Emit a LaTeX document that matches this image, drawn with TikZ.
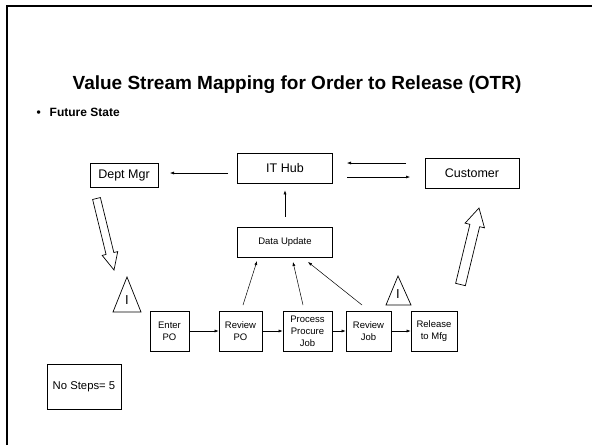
\documentclass[tikz,border=0pt]{standalone}
\usepackage{fontspec}
\setmainfont{Liberation Sans}
\usetikzlibrary{calc,arrows.meta}
\newcommand{\blkarrow}[5]{% tail, tip, shaft half, head half, head length
  \draw[line width=0.7pt,line join=miter]
    coordinate (nk) at ($(#2)!#5!(#1)$)
    ($(#1)!#3!90:(#2)$) -- ($(nk)!#3!90:(#2)$) -- ($(nk)!#4!90:(#2)$) -- (#2)
    -- ($(nk)!#4!-90:(#2)$) -- ($(nk)!#3!-90:(#2)$) -- ($(#1)!#3!-90:(#2)$) -- cycle;}
\tikzset{
  box/.style={draw,line width=0.7pt,inner sep=1pt,align=center},
  bigbox/.style={box,font=\fontsize{12.5}{14}\selectfont},
  smallbox/.style={box,font=\fontsize{9.5}{12}\selectfont},
  conn/.style={line width=0.5pt,-{Latex[length=4pt,width=3pt]}},
  tri/.style={line width=0.7pt,line join=miter},
}
\begin{document}
\begin{tikzpicture}[x=1pt,y=-1pt]
\useasboundingbox (0,0) rectangle (592,445);
\fill[white] (0,0) rectangle (592,445);
% frame
\draw[line width=2.5pt] (7,445) -- (7,6) -- (592,6);
% title
\node[font=\fontsize{19}{22}\bfseries\selectfont] (title) at (297,85) {Value Stream Mapping for Order to Release (OTR)};
\node[font=\fontsize{12}{14}\bfseries\selectfont,anchor=west] (fs) at (33,112) {\textbullet\hspace{9pt}Future State};
% top boxes
\node[bigbox,minimum width=68pt,minimum height=24pt] (dept) at (124,175.5) {Dept Mgr};
\node[bigbox,minimum width=95pt,minimum height=30pt] (ithub) at (285,168) {IT Hub};
\node[bigbox,minimum width=94pt,minimum height=30pt] (cust) at (472,173) {Customer};
\node[smallbox,minimum width=95pt,minimum height=30pt] (du) at (285,242) {Data Update};
% process boxes
\node[smallbox,minimum width=39pt,minimum height=40pt] (enter) at (169.5,331) {Enter\\PO};
\node[smallbox,minimum width=43pt,minimum height=40pt] (revpo) at (240.5,331) {Review\\PO};
\node[smallbox,minimum width=49pt,minimum height=40pt] (proc) at (307.5,331) {Process\\Procure\\Job};
\node[smallbox,minimum width=45pt,minimum height=40pt] (revjob) at (368.5,331) {Review\\Job};
\node[smallbox,minimum width=46pt,minimum height=40pt] (rel) at (434,331) {Release\\to Mfg};
\node[box,font=\fontsize{11.3}{13}\selectfont,minimum width=74pt,minimum height=45pt] (nosteps) at (84,386.5) {No Steps= 5};
% flow arrows
\draw[conn] (enter) -- (revpo);
\draw[conn] (revpo) -- (proc);
\draw[conn] (proc) -- (revjob);
\draw[conn] (revjob) -- (rel);
% arrows to data update
\coordinate (s1) at (243,305); \coordinate (e1) at (257,261);
\coordinate (s2) at (303,305); \coordinate (e2) at (293,262);
\coordinate (s3) at (362,305); \coordinate (e3) at (308,262);
\draw[conn] (s1) -- (e1);
\draw[conn] (s2) -- (e2);
\draw[conn] (s3) -- (e3);
% data update to IT hub
\draw[conn,shorten <=10pt,shorten >=7pt] (du.north) -- (ithub.south);
% IT hub to Dept Mgr
\coordinate (a1) at (228,173); \coordinate (a2) at (170,173);
\draw[conn] (a1) -- (a2);
% IT hub <-> customer
\coordinate (b1) at (406,163); \coordinate (b2) at (347,163);
\coordinate (c1) at (347,177); \coordinate (c2) at (410,177);
\draw[conn] (b1) -- (b2);
\draw[conn] (c1) -- (c2);
% block arrows
\coordinate (dt) at (96.5,198.5); \coordinate (dh) at (114,270);
\blkarrow{dt}{dh}{4pt}{8pt}{17pt}
\coordinate (ut) at (460.5,284.5); \coordinate (uh) at (479,208);
\blkarrow{ut}{uh}{5pt}{10pt}{18pt}
% inventory triangles
\draw[tri] (127,277) -- (141,312) -- (113,312) -- cycle;
\node[font=\fontsize{13}{15}\selectfont,inner sep=0pt] (i1) at (127,300) {I};
\draw[tri] (398,276) -- (411,305) -- (386,305) -- cycle;
\node[font=\fontsize{13}{15}\selectfont,inner sep=0pt] (i2) at (398,294) {I};
\end{tikzpicture}
\end{document}
